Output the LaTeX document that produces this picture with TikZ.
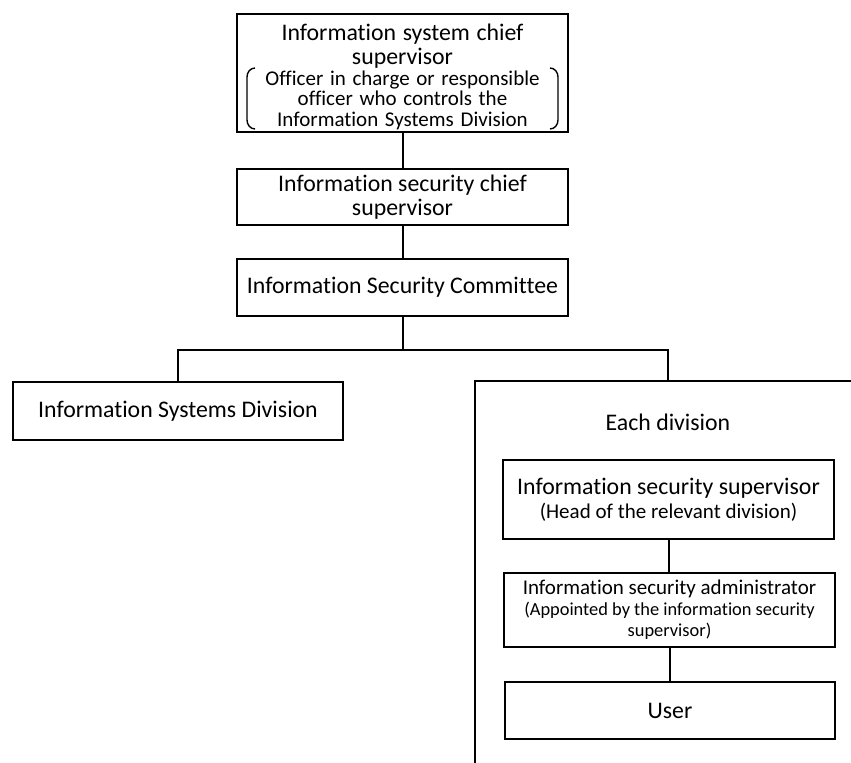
\documentclass[tikz,border=0pt]{standalone}
\usepackage{fontspec}
\setmainfont{Carlito}[Ligatures=NoCommon]
\usepackage{tikz}

\newcommand{\bigtxt}{\fontsize{11.9}{12}\selectfont}
\newcommand{\midtxt}{\fontsize{10.5}{10.2}\selectfont}
\newcommand{\smalltxt}{\fontsize{9.2}{10.5}\selectfont}

\begin{document}
\begin{tikzpicture}[x=0.5pt,y=-0.5pt,
    box/.style={draw,line width=1pt,align=center,inner sep=0pt,font=\bigtxt},
    link/.style={line width=1pt}]
    \useasboundingbox (0,0) rectangle (851,763);

    % top of the chain
    \node[box,minimum width=165.5pt,minimum height=59pt] (chief) at (402.5,73) {};
    \node[align=center,inner sep=0pt,text width=160pt] (chieftext) at (402.5,77)
      {\bigtxt Information system chief\\ supervisor\par
       \midtxt Officer in charge or responsible\\ officer who controls the\\ Information Systems Division\par};
    \draw[link,line width=0.7pt] (255,68) to[out=180,in=90] (247,77) -- (247,120) to[out=-90,in=180] (255,129);
    \draw[link,line width=0.7pt] (550,68) to[out=0,in=90] (558,77) -- (558,120) to[out=-90,in=0] (550,129);
    \node[box,minimum width=165.5pt,minimum height=28pt] (ciso) at (402.5,197)
      {Information security chief\\ supervisor};
    \node[box,minimum width=165.5pt,minimum height=28.5pt] (comm) at (402.5,287.5)
      {Information Security Committee};
    \draw[link] (chief) -- (ciso);
    \draw[link] (ciso) -- (comm);

    % split
    \coordinate (fork) at (402.5,350);
    \coordinate (rtop) at (668,350);
    \coordinate (divtop) at (668,381);
    \node[box,minimum width=165pt,minimum height=29pt] (isd) at (178,411)
      {Information Systems Division};
    \draw[link] (comm) -- (fork);
    \draw[link] (isd.north) |- (rtop) -- (divtop);

    % each division
    \draw[link] (851,381) -- (475,381) -- (475,763);
    \node[font=\bigtxt] (eachdiv) at (668,422) {Each division};
    \node[box,minimum width=165.5pt,minimum height=39.5pt] (iss) at (668.5,499.5)
      {Information security supervisor\\ \midtxt (Head of the relevant division)};
    \node[box,minimum width=165.5pt,minimum height=37pt,font=\smalltxt] (isa) at (669.5,610)
      {\midtxt Information security administrator\\ (Appointed by the information security\\ supervisor)};
    \node[box,minimum width=165pt,minimum height=28.5pt] (user) at (670,710.5)
      {User};
    \draw[link] (iss) -- (iss |- isa.north);
    \draw[link] (isa.south -| user) -- (user);
\end{tikzpicture}
\end{document}
